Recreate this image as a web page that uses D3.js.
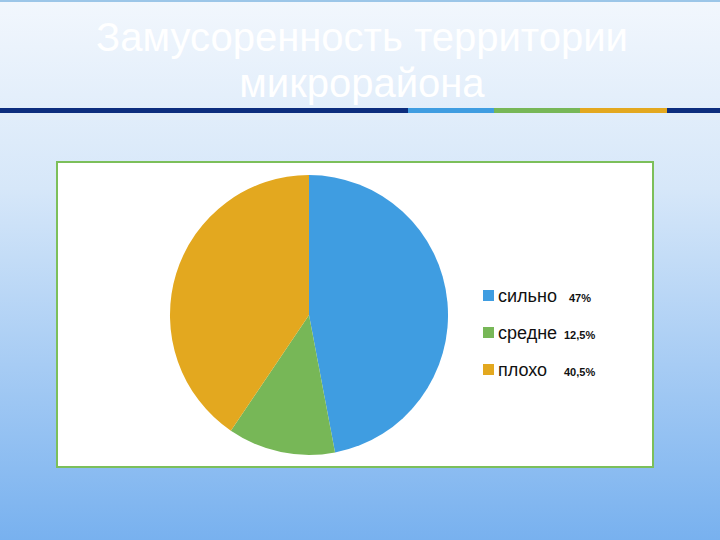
<!DOCTYPE html>
<html>
<head>
<meta charset="utf-8">
<script src="https://cdn.jsdelivr.net/npm/d3@7"></script>
<style>
  body { margin: 0; }
  svg { display: block; font-family: "Liberation Sans", Arial, sans-serif; }
</style>
</head>
<body>
<svg id="chart" width="720" height="540"></svg>
<script>
const labels = ["сильно", "средне", "плохо"];
const values = [47, 12.5, 40.5];
const valueLabels = ["47%", "12,5%", "40,5%"];
const colors = ["#3f9de1", "#77b757", "#e3a81f"];
const titleLines = ["Замусоренность территории", "микрорайона"];
const stripeColors = ["#0c2d7e", "#3f9de1", "#77b757", "#e3a81f", "#0c2d7e"];
const stripeStops = [0, 408, 494, 580, 667, 720];

const svg = d3.select("#chart");
const width = 720, height = 540;

// background gradient
const defs = svg.append("defs");
const grad = defs.append("linearGradient")
    .attr("id", "bg")
    .attr("x1", 0).attr("y1", 0).attr("x2", 0).attr("y2", 1);
grad.append("stop").attr("offset", "0%").attr("stop-color", "#f2f7fd");
grad.append("stop").attr("offset", "35%").attr("stop-color", "#d6e7f9");
grad.append("stop").attr("offset", "100%").attr("stop-color", "#78b1ef");

svg.append("rect")
    .attr("width", width).attr("height", height)
    .attr("fill", "url(#bg)");

svg.append("rect")
    .attr("x", 0).attr("y", 0).attr("width", width).attr("height", 2)
    .attr("fill", "#9cc6e8");

// title
svg.selectAll(".title")
  .data(titleLines)
  .enter()
  .append("text")
  .attr("class", "title")
  .attr("x", 362)
  .attr("y", (d, i) => 51 + i * 46)
  .attr("text-anchor", "middle")
  .style("font-size", "40px")
  .style("fill", "#ffffff")
  .text(d => d);

// stripe under title
svg.selectAll(".stripe")
  .data(stripeColors)
  .enter()
  .append("rect")
  .attr("class", "stripe")
  .attr("x", (d, i) => stripeStops[i])
  .attr("y", 108)
  .attr("width", (d, i) => stripeStops[i + 1] - stripeStops[i])
  .attr("height", 5)
  .attr("fill", d => d);

// chart frame
svg.append("rect")
    .attr("x", 57).attr("y", 162)
    .attr("width", 596).attr("height", 305)
    .attr("fill", "#ffffff")
    .attr("stroke", "#7cbf5a")
    .attr("stroke-width", 2);

// pie
const pie = d3.pie().sort(null)(values);
const arc = d3.arc().innerRadius(0).outerRadius(140);

const pg = svg.append("g")
    .attr("transform", "translate(309,315) scale(0.993,1)");

pg.selectAll("path")
  .data(pie)
  .enter()
  .append("path")
  .attr("d", arc)
  .attr("fill", (d, i) => colors[i]);

// legend
const legend = svg.append("g").attr("transform", "translate(483,290)");
const items = legend.selectAll(".legend-item")
  .data(labels)
  .enter()
  .append("g")
  .attr("class", "legend-item")
  .attr("transform", (d, i) => `translate(0, ${i * 37})`);

items.append("rect")
  .attr("width", 11).attr("height", 11)
  .attr("fill", (d, i) => colors[i]);

items.append("text")
  .attr("x", 15).attr("y", 12)
  .style("font-size", "18px")
  .style("fill", "#111")
  .text(d => d);

// percent labels, offsets relative to legend group
items.append("text")
  .attr("x", (d, i) => [86, 81, 81][i])
  .attr("y", 12)
  .style("font-size", "11px")
  .style("font-weight", "bold")
  .style("fill", "#111")
  .text((d, i) => valueLabels[i]);
</script>
</body>
</html>
